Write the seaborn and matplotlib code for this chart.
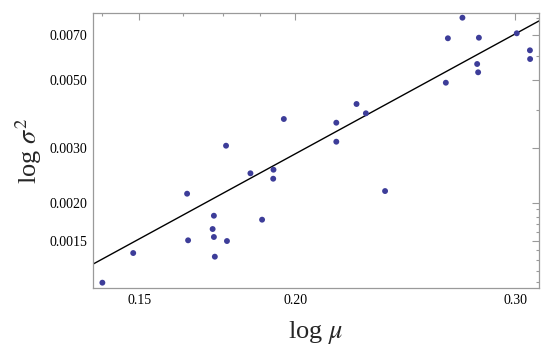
import numpy as np
import pandas as pd
import matplotlib
matplotlib.use('Agg')
import matplotlib.pyplot as plt
import matplotlib.ticker as mticker
import seaborn as sns

# points (log mu, log sigma^2)
log_mu = [0.1401, 0.1483, 0.1638, 0.1641, 0.1721, 0.1717, 0.1721, 0.1724, 0.1763, 0.1760,
          0.1841, 0.1881, 0.1921, 0.1920, 0.1958, 0.2157, 0.2157, 0.2239, 0.2278, 0.2360,
          0.2640, 0.2650, 0.2722, 0.2806, 0.2797, 0.2802, 0.3009, 0.3083, 0.3084]
log_sigma2 = [0.001098, 0.001371, 0.002138, 0.001508, 0.001813, 0.001641, 0.001546, 0.001334,
              0.001500, 0.003063, 0.002491, 0.001760, 0.002559, 0.002392, 0.003741, 0.003639,
              0.003156, 0.004186, 0.003904, 0.002181, 0.004910, 0.006848, 0.007990, 0.006878,
              0.005648, 0.005308, 0.007109, 0.006258, 0.005863]

# power-law fit  y = a * x^b
fit_coef = 0.1017
fit_exp = 2.214

x_range = [0.1377, 0.3135]
y_range = [0.001055, 0.008274]

x_ticks = [0.15, 0.20, 0.30]
x_labels = ['0.15', '0.20', '0.30']
x_minor = [0.14, 0.1625, 0.175, 0.1875]
y_ticks = [0.0015, 0.0020, 0.0030, 0.0050, 0.0070]
y_labels = ['0.0015', '0.0020', '0.0030', '0.0050', '0.0070']
y_minor = [0.0011, 0.0012, 0.0013, 0.0014, 0.0016, 0.0017, 0.0018, 0.0019, 0.004, 0.006, 0.008]

point_color = '#3d3d99'
frame_color = '#9a9a9a'

sns.set_style('white')
plt.rcParams['font.family'] = ['Liberation Serif', 'DejaVu Serif']
plt.rcParams['mathtext.fontset'] = 'stix'

fig = plt.figure(figsize=(5.5, 3.53), dpi=100)
ax = fig.add_axes([0.1691, 0.1841, 0.8109, 0.7790])

df = pd.DataFrame({'log_mu': log_mu, 'log_sigma2': log_sigma2})
sns.scatterplot(data=df, x='log_mu', y='log_sigma2', color=point_color, s=18,
                edgecolor='none', ax=ax, zorder=3)

x_fit = np.geomspace(x_range[0], x_range[1], 60)
fit = pd.DataFrame({'x': x_fit, 'y': fit_coef * x_fit ** fit_exp})
sns.lineplot(data=fit, x='x', y='y', color='black', linewidth=1, ax=ax)

ax.set_xscale('log')
ax.set_yscale('log')
ax.set_xlim(x_range)
ax.set_ylim(y_range)

ax.xaxis.set_major_locator(mticker.FixedLocator(x_ticks))
ax.xaxis.set_major_formatter(mticker.FixedFormatter(x_labels))
ax.xaxis.set_minor_locator(mticker.FixedLocator(x_minor))
ax.xaxis.set_minor_formatter(mticker.NullFormatter())
ax.yaxis.set_major_locator(mticker.FixedLocator(y_ticks))
ax.yaxis.set_major_formatter(mticker.FixedFormatter(y_labels))
ax.yaxis.set_minor_locator(mticker.FixedLocator(y_minor))
ax.yaxis.set_minor_formatter(mticker.NullFormatter())

ax.tick_params(which='both', direction='in', top=True, right=True,
               color=frame_color, labelcolor='black', labelsize=10, width=0.8)
ax.tick_params(which='major', length=5, pad=4)
ax.tick_params(which='minor', length=2.5)
for sp in ax.spines.values():
    sp.set_color(frame_color)
    sp.set_linewidth(0.9)

ax.set_xlabel('log $\\mu$', fontsize=19, labelpad=9)
ax.set_ylabel('log $\\sigma^2$', fontsize=19, labelpad=4)

fig.savefig('out.png', dpi=100)
